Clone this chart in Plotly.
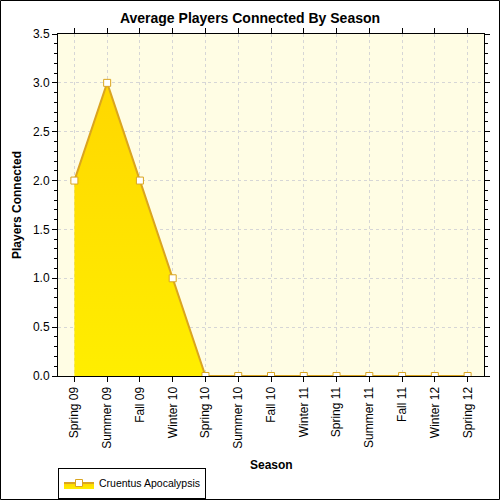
import plotly.graph_objects as go

# Jucatori medii conectati pe sezon

sezoane = ["Spring 09", "Summer 09", "Fall 09", "Winter 10", "Spring 10", "Summer 10",
           "Fall 10", "Winter 11", "Spring 11", "Summer 11", "Fall 11", "Winter 12", "Spring 12"]
jucatori = [2, 3, 2, 1, 0, 0, 0, 0, 0, 0, 0, 0, 0]
nume_serie = "Cruentus Apocalypsis"

fig = go.Figure()

fig.add_trace(go.Scatter(
    x=sezoane, y=jucatori, name=nume_serie,
    mode="lines+markers", fill="tozeroy",
    line=dict(color="#DAA520", width=2),
    marker=dict(symbol="square", size=7, color="white", line=dict(color="#DAA520", width=1)),
    fillgradient=dict(type="vertical", colorscale=[[0, "#FFEE00"], [1, "#FFD700"]]),
))

fig.update_layout(
    width=500, height=500,
    margin=dict(l=58, r=16, t=34, b=124, autoexpand=False),
    paper_bgcolor="white",
    plot_bgcolor="#FFFDE4",
    font=dict(family="Liberation Sans, Arial", size=12, color="black"),
    title=dict(text="<b>Average Players Connected By Season</b>", x=0.5, xanchor="center",
               y=0.964, yanchor="middle", font=dict(size=14)),
    showlegend=True,
    legend=dict(orientation="h", xref="container", yref="container",
                x=58 / 500, xanchor="left", y=17 / 500, yanchor="middle",
                bordercolor="black", borderwidth=1, bgcolor="white",
                font=dict(size=10.5), itemwidth=30, tracegroupgap=0),
)

# titlul axei x ca adnotare
fig.add_annotation(text="<b>Season</b>", xref="paper", yref="paper",
                   x=0.5, y=-89 / 342, xanchor="center", yanchor="middle",
                   showarrow=False, font=dict(size=12))

fig.update_xaxes(
    type="category", range=[-0.5, 12.5], tickangle=-90, automargin=False,
    showline=True, linecolor="black", linewidth=1, mirror="ticks",
    ticks="outside", ticklen=5, tickcolor="black",
    showgrid=True, gridcolor="#D6D6D6", griddash="dot", gridwidth=1,
)

fig.update_yaxes(
    range=[0, 3.5], dtick=0.5, tickformat=".1f", automargin=False,
    title=dict(text="<b>Players Connected</b>", standoff=8, font=dict(size=12)),
    showline=True, linecolor="black", linewidth=1, mirror="ticks",
    ticks="outside", ticklen=5, tickcolor="black",
    showgrid=True, gridcolor="#D6D6D6", griddash="dot", gridwidth=1,
    zeroline=False,
    minor=dict(dtick=0.1, ticks="outside", ticklen=3, tickcolor="black", showgrid=False),
)

# chenar exterior
fig.add_shape(type="rect", xref="paper", yref="paper",
              x0=-57.5 / 426, x1=1 + 15.5 / 426, y0=-123.5 / 342, y1=1 + 33.5 / 342,
              line=dict(color="black", width=1), fillcolor="rgba(0,0,0,0)", layer="above")

fig.write_html("out.html", config={"displayModeBar": False},
               post_script="document.body.style.margin='0';")
